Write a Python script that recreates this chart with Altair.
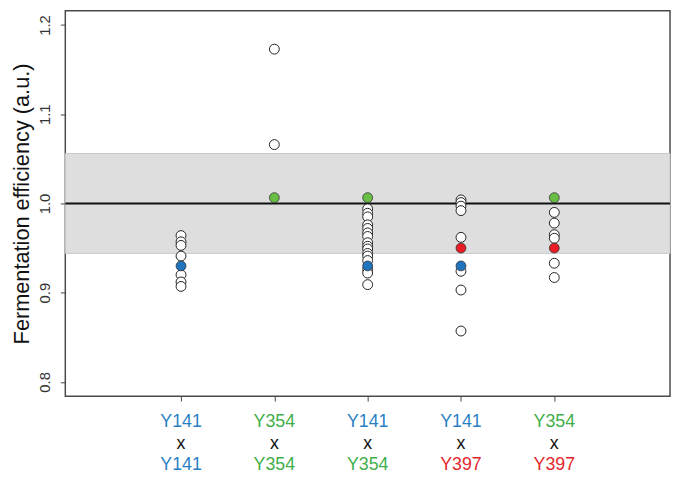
import altair as alt
import pandas as pd

# ---- data ----
group_pos = [1, 2, 3, 4, 5]
parent_top = ["Y141", "Y354", "Y141", "Y141", "Y354"]
parent_bottom = ["Y141", "Y354", "Y354", "Y397", "Y397"]

hybrids_g1 = [0.964, 0.957, 0.953, 0.941, 0.920, 0.912, 0.907]
hybrids_g2 = [1.173, 1.066]
hybrids_g3 = [0.994, 0.989, 0.985, 0.976, 0.972, 0.967, 0.963, 0.956, 0.952,
              0.949, 0.944, 0.941, 0.936, 0.926, 0.922, 0.909]
hybrids_g4 = [1.004, 1.001, 0.997, 0.992, 0.962, 0.924, 0.903, 0.857]
hybrids_g5 = [0.990, 0.978, 0.965, 0.961, 0.933, 0.917]

parent_vals_g1 = [("Y141", 0.930)]
parent_vals_g2 = [("Y354", 1.0065)]
parent_vals_g3 = [("Y354", 1.0065), ("Y141", 0.930)]
parent_vals_g4 = [("Y397", 0.950), ("Y141", 0.930)]
parent_vals_g5 = [("Y354", 1.0065), ("Y397", 0.950)]

band_low, band_high = 0.944, 1.056
reference_level = 1.0
x_domain = [-0.24, 6.24]
y_domain = [0.784, 1.216]
y_ticks = [0.8, 0.9, 1.0, 1.1, 1.2]

strain_point_colors = {"Y141": "#1f74bd", "Y354": "#6abd45", "Y397": "#ec1c24"}
strain_text_colors = {"Y141": "#2a7fc4", "Y354": "#3fae49", "Y397": "#e3262d"}

# ---- tables ----
hyb_rows = []
for g, vals in zip(group_pos, [hybrids_g1, hybrids_g2, hybrids_g3, hybrids_g4, hybrids_g5]):
    for v in vals:
        hyb_rows.append({"g": g, "eff": v})
hyb = pd.DataFrame(hyb_rows)

par_rows = []
for g, vals in zip(group_pos, [parent_vals_g1, parent_vals_g2, parent_vals_g3,
                               parent_vals_g4, parent_vals_g5]):
    for s, v in vals:
        par_rows.append({"g": g, "eff": v, "strain": s, "col": strain_point_colors[s]})
par = pd.DataFrame(par_rows)

lab = pd.DataFrame({
    "g": group_pos,
    "top": parent_top,
    "bottom": parent_bottom,
    "top_col": [strain_text_colors[s] for s in parent_top],
    "bottom_col": [strain_text_colors[s] for s in parent_bottom],
    "x": ["x"] * len(group_pos),
})

band = pd.DataFrame({"g": [x_domain[0]], "x2": [x_domain[1]], "eff": [band_low], "y2": [band_high]})
ref = pd.DataFrame({"g": [x_domain[0]], "x2": [x_domain[1]], "eff": [reference_level]})

W, H = 612, 390
FONT = "Liberation Sans"

xs = alt.Scale(domain=x_domain, nice=False, zero=False)
ys = alt.Scale(domain=y_domain, nice=False, zero=False)

x_axis = alt.Axis(values=group_pos, labels=False, domain=False, grid=False,
                  tickSize=5, tickColor="#444", tickWidth=1, title=None)
y_axis = alt.Axis(values=y_ticks, format=".1f", domain=False, grid=False,
                  tickSize=5, tickColor="#444", tickWidth=1,
                  labelAngle=-90, labelAlign="center", labelBaseline="bottom",
                  labelFont=FONT, labelFontSize=15, labelColor="#333",
                  labelPadding=8,
                  title="Fermentation efficiency (a.u.)",
                  titleFont=FONT, titleFontSize=22, titleFontWeight="normal",
                  titleColor="#111", titlePadding=4)

X = alt.X("g:Q", scale=xs, axis=x_axis)
Y = alt.Y("eff:Q", scale=ys, axis=y_axis)

band_layer = alt.Chart(band).mark_rect(fill="#dedede", stroke="#c9c9c9", strokeWidth=1).encode(
    x=X, x2="x2:Q", y=Y, y2="y2:Q",
)

ref_layer = alt.Chart(ref).mark_rule(color="#111", strokeWidth=2).encode(
    x=X, x2="x2:Q", y=Y,
)

hyb_layer = alt.Chart(hyb).mark_point(
    shape="circle", filled=True, fill="white", stroke="#222", strokeWidth=1, size=100, opacity=1
).encode(x=X, y=Y)

par_layer = alt.Chart(par).mark_point(
    shape="circle", filled=True, stroke="#333", strokeWidth=0.8, size=100, opacity=1
).encode(
    x=X, y=Y,
    fill=alt.Fill("col:N", scale=None),
)

top_txt = alt.Chart(lab).mark_text(font=FONT, fontSize=18, baseline="middle").encode(
    x=X,
    y=alt.value(H + 26),
    text="top:N",
    color=alt.Color("top_col:N", scale=None),
)
mid_txt = alt.Chart(lab).mark_text(font=FONT, fontSize=18, baseline="middle", color="#111").encode(
    x=X,
    y=alt.value(H + 48),
    text="x:N",
)
bot_txt = alt.Chart(lab).mark_text(font=FONT, fontSize=18, baseline="middle").encode(
    x=X,
    y=alt.value(H + 70),
    text="bottom:N",
    color=alt.Color("bottom_col:N", scale=None),
)

chart = alt.layer(band_layer, ref_layer, hyb_layer, par_layer, top_txt, mid_txt, bot_txt).properties(
    width=W, height=H,
    background="white",
    autosize=alt.AutoSizeParams(type="none"),
    padding={"left": 58, "top": 0, "right": 2, "bottom": 79},
).configure_view(stroke="#4a4a4a", strokeWidth=1.5)

chart.save("out.html", embed_options={"renderer": "svg", "actions": False})
